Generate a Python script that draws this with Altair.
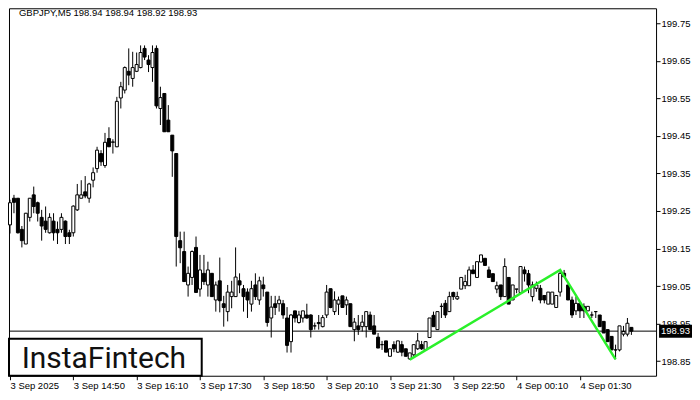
import altair as alt
import pandas as pd

symbol = "GBPJPY,M5"

opens = [199.213,199.284,199.284,199.201,199.162,199.233,199.293,199.272,199.233,199.223,
         199.192,199.223,199.201,199.201,199.223,199.192,199.192,199.253,199.284,199.301,
         199.284,199.332,199.363,199.403,199.371,199.443,199.433,199.421,199.551,199.572,
         199.622,199.603,199.622,199.632,199.683,199.652,199.632,199.683,199.523,199.563,
         199.492,199.452,199.403,199.171,199.142,199.053,199.073,199.153,199.042,199.084,
         199.053,199.084,199.013,199.064,199.003,198.982,199.022,199.022,199.064,199.043,
         199.034,199.002,199.053,199.013,199.053,199.034,198.965,199.003,199.003,199.003,
         198.965,198.902,198.984,198.953,198.965,198.973,198.973,198.944,198.953,198.942,
         198.973,199.043,198.982,199.002,199.024,199.000,199.003,198.934,198.944,198.942,
         198.942,198.973,198.944,198.914,198.894,198.904,198.863,198.894,198.874,198.894,
         198.883,198.856,198.867,198.883,198.894,198.880,198.913,198.972,198.934,198.996,
         199.004,198.982,199.033,199.016,199.042,199.051,199.051,199.093,199.073,199.114,
         199.124,199.093,199.083,199.042,199.053,199.022,199.073,199.013,199.042,199.033,
         199.093,199.083,199.022,199.044,199.044,199.025,199.002,199.002,198.993,199.034,
         199.084,199.053,199.013,198.984,199.004,198.996,198.984,198.973,198.982,198.973,
         198.956,198.934,198.916,198.880,198.880,198.922,198.922,198.940]
highs = [199.280,199.293,199.284,199.210,199.245,199.284,199.315,199.275,199.253,199.262,
         199.244,199.244,199.222,199.244,199.225,199.200,199.265,199.322,199.332,199.343,
         199.325,199.366,199.421,199.412,199.458,199.473,199.441,199.554,199.594,199.635,
         199.683,199.674,199.672,199.691,199.691,199.665,199.691,199.691,199.581,199.563,
         199.532,199.452,199.403,199.195,199.195,199.102,199.145,199.182,199.133,199.133,
         199.115,199.084,199.062,199.126,199.024,199.053,199.064,199.153,199.084,199.053,
         199.044,199.064,199.084,199.075,199.075,199.034,199.024,199.024,199.024,199.013,
         198.994,198.975,198.984,198.984,198.984,199.003,198.975,198.953,198.973,198.973,
         199.053,199.043,199.036,199.022,199.024,199.022,199.003,198.965,198.973,198.973,
         198.982,198.982,198.973,198.925,198.904,198.904,198.883,198.903,198.904,198.904,
         198.883,198.872,198.894,198.925,198.904,198.902,198.965,198.982,198.982,199.004,
         199.013,199.035,199.035,199.035,199.073,199.080,199.102,199.106,199.115,199.133,
         199.124,199.102,199.083,199.062,199.053,199.124,199.073,199.053,199.042,199.102,
         199.102,199.093,199.062,199.062,199.053,199.025,199.034,199.034,199.025,199.093,
         199.093,199.053,199.022,199.022,199.004,199.004,198.996,198.982,198.982,198.973,
         198.956,198.934,198.916,198.894,198.944,198.944,198.965,198.940]
lows = [199.190,199.244,199.190,199.153,199.162,199.222,199.244,199.222,199.171,199.192,
        199.190,199.171,199.162,199.192,199.162,199.162,199.182,199.250,199.284,199.284,
        199.272,199.313,199.352,199.370,199.365,199.421,199.403,199.420,199.523,199.563,
        199.585,199.581,199.620,199.630,199.652,199.620,199.594,199.523,199.479,199.461,
        199.461,199.341,199.102,199.111,199.062,199.022,199.053,199.033,199.022,199.053,
        199.022,199.022,198.982,198.980,198.942,198.956,198.991,199.022,199.031,198.982,
        198.965,198.982,199.013,199.000,199.022,198.942,198.913,198.973,198.982,198.963,
        198.873,198.873,198.953,198.950,198.953,198.963,198.913,198.934,198.934,198.940,
        198.965,198.991,198.973,198.973,198.993,198.973,198.942,198.903,198.920,198.929,
        198.913,198.934,198.922,198.885,198.880,198.874,198.863,198.874,198.872,198.863,
        198.863,198.854,198.863,198.880,198.880,198.878,198.913,198.942,198.934,198.965,
        198.965,198.982,199.013,199.013,199.042,199.042,199.051,199.083,199.073,199.114,
        199.105,199.073,199.062,199.031,199.013,199.022,199.002,199.013,199.031,199.033,
        199.062,199.031,199.009,199.035,199.004,199.004,199.002,199.002,198.993,199.022,
        199.075,199.013,198.965,198.973,198.965,198.965,198.984,198.965,198.965,198.942,
        198.925,198.902,198.880,198.855,198.876,198.916,198.916,198.920]
closes = [199.272,199.273,199.192,199.171,199.244,199.284,199.262,199.244,199.210,199.201,
          199.233,199.192,199.192,199.233,199.182,199.182,199.263,199.293,199.293,199.290,
          199.322,199.352,199.412,199.381,199.433,199.421,199.434,199.542,199.581,199.632,
          199.612,199.632,199.640,199.672,199.660,199.640,199.672,199.530,199.552,199.461,
          199.461,199.410,199.182,199.152,199.062,199.084,199.142,199.033,199.093,199.062,
          199.093,199.022,199.053,199.011,198.993,199.034,199.034,199.074,199.053,199.022,
          199.013,199.043,199.022,199.064,199.043,198.953,198.994,198.993,199.013,198.973,
          198.892,198.973,198.965,198.973,198.984,198.965,198.934,198.944,198.950,198.966,
          199.034,198.993,199.013,199.013,198.993,199.013,198.942,198.954,198.934,198.954,
          198.982,198.934,198.922,198.885,198.894,198.874,198.883,198.883,198.904,198.874,
          198.863,198.872,198.894,198.904,198.883,198.902,198.965,198.942,198.982,198.996,
          198.973,199.022,199.022,199.022,199.073,199.062,199.093,199.083,199.115,199.133,
          199.105,199.073,199.062,199.051,199.022,199.102,199.002,199.053,199.042,199.102,
          199.083,199.053,199.053,199.053,199.013,199.013,199.034,199.034,199.025,199.084,
          199.075,199.013,198.973,199.004,198.984,198.984,198.996,198.973,198.982,198.942,
          198.925,198.902,198.880,198.880,198.944,198.929,198.951,198.930]

x_tick_bars = [1, 17, 33, 49, 65, 81, 97, 113, 129, 145]
x_tick_labels = ["3 Sep 2025", "3 Sep 14:50", "3 Sep 16:10", "3 Sep 17:30", "3 Sep 18:50",
                 "3 Sep 20:10", "3 Sep 21:30", "3 Sep 22:50", "4 Sep 00:10", "4 Sep 01:30"]
y_ticks = [198.85, 198.95, 199.05, 199.15, 199.25, 199.35, 199.45, 199.55, 199.65, 199.75]
pattern_bars = [102, 140, 154]
pattern_prices = [198.854, 199.093, 198.855]
current_price = 198.93
logo_text = "InstaFintech"

n = len(opens)
df = pd.DataFrame({
    "bar": list(range(1, n + 1)),
    "open": opens, "high": highs, "low": lows, "close": closes,
})
df["dir"] = ["up" if c >= o else "down" for o, c in zip(opens, closes)]

last = df.iloc[-1]
header = f"{symbol}  {last.open:.2f} {last.high:.2f} {last.low:.2f} {last.close:.2f}"

FONT = "Liberation Sans"
W, H = 648, 368
xscale = alt.Scale(domain=[0.7477, 164.23], nice=False, zero=False, padding=0)
yscale = alt.Scale(domain=[198.8112, 199.7899], nice=False, zero=False, padding=0)

labels_js = "[" + ",".join(f"'{l}'" for l in x_tick_labels) + "]"
ticks_js = "[" + ",".join(str(v) for v in x_tick_bars) + "]"

x_axis = alt.Axis(values=x_tick_bars, labelExpr=f"{labels_js}[indexof({ticks_js}, datum.value)]",
                  title=None, grid=False, domain=False, tickSize=4, tickColor="black",
                  labelAlign="left", labelPadding=1, labelFontSize=9.5, labelColor="black",
                  labelFont=FONT, labelFlush=False, labelOverlap=False)
y_axis = alt.Axis(values=y_ticks, format=".2f", orient="right", title=None, grid=False,
                  domain=False, tickSize=4, tickColor="black", labelPadding=1,
                  labelFontSize=9.5, labelColor="black", labelFont=FONT, labelOverlap=False)

base = alt.Chart(df)

price_line = alt.Chart(pd.DataFrame({"p": [current_price]})).mark_rule(
    color="black", strokeWidth=1).encode(y=alt.Y("p:Q", scale=yscale, axis=y_axis))

wicks = base.mark_rule(color="black", strokeWidth=1).encode(
    x=alt.X("bar:Q", scale=xscale, axis=x_axis),
    y=alt.Y("low:Q", scale=yscale, axis=y_axis),
    y2="high:Q",
)

bodies = base.mark_bar(size=3, stroke="black", strokeWidth=1).encode(
    x=alt.X("bar:Q", scale=xscale),
    y=alt.Y("open:Q", scale=yscale),
    y2="close:Q",
    fill=alt.Fill("dir:N", scale=alt.Scale(domain=["up", "down"], range=["white", "black"]), legend=None),
)

pattern = alt.Chart(pd.DataFrame({"bar": pattern_bars, "p": pattern_prices})).mark_line(
    color="#2AF02A", strokeWidth=2.5).encode(
    x=alt.X("bar:Q", scale=xscale), y=alt.Y("p:Q", scale=yscale))

cp_df = pd.DataFrame({"p": [current_price], "t": [f"{current_price:.2f}"]})
cp_box = alt.Chart(cp_df).mark_tick(orient="horizontal", thickness=13, size=33, color="black",
                                    opacity=1, clip=False).encode(
    x=alt.value(667.5), y=alt.Y("p:Q", scale=yscale))
cp_text = alt.Chart(cp_df).mark_text(color="white", align="left", baseline="middle",
                                     fontSize=9.5, font=FONT, clip=False).encode(
    x=alt.value(653), y=alt.Y("p:Q", scale=yscale), text="t:N")

head = alt.Chart(pd.DataFrame({"t": [header]})).mark_text(
    align="left", baseline="top", fontSize=9.5, font=FONT, color="black").encode(
    x=alt.value(10), y=alt.value(0), text="t:N")

logo_df = pd.DataFrame({"t": [logo_text]})
logo_box = alt.Chart(logo_df).mark_rect(fill="white", stroke="black", strokeWidth=2).encode(
    x=alt.value(0), x2=alt.value(193), y=alt.value(331), y2=alt.value(368))
logo = alt.Chart(logo_df).mark_text(align="center", baseline="middle", fontSize=30,
                                    font="Roboto", fontWeight="normal", color="#111111").encode(
    x=alt.value(95), y=alt.value(351), text="t:N")

chart = alt.layer(price_line, wicks, bodies, pattern, cp_box, cp_text, head, logo_box, logo).properties(
    width=W, height=H, padding={"left": 0, "top": 0, "right": 0, "bottom": 0},
    background="white",
).configure_view(stroke="black", strokeWidth=1)

chart.save("out.html", embed_options={"renderer": "svg", "actions": False})
